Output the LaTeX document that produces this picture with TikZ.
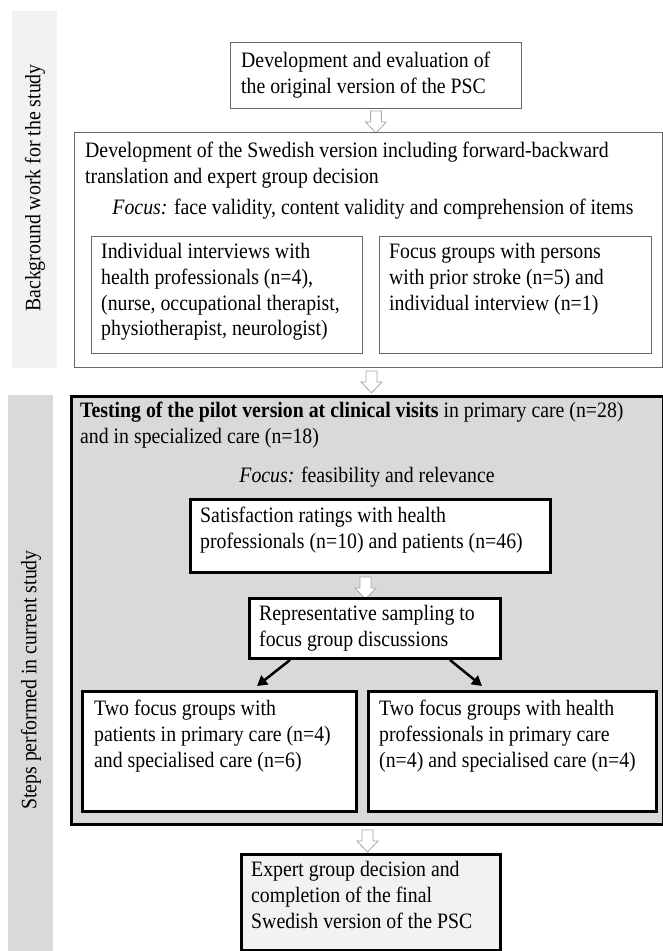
\documentclass[tikz,border=0pt]{standalone}
\usepackage{fontspec}
\setmainfont{Liberation Serif}[FakeStretch=0.9]
\usetikzlibrary{arrows.meta,calc}
\definecolor{lgray}{HTML}{F2F2F2}
\definecolor{mgray}{HTML}{D9D9D9}
\definecolor{agray}{HTML}{A6A6A6}
\begin{document}
\begin{tikzpicture}[x=1pt,y=-1pt,
  txt/.style={inner sep=0pt, anchor=north west, align=left, font=\fontsize{22}{25.8}\selectfont},
  ctxt/.style={inner sep=0pt, anchor=north, align=center, font=\fontsize{22}{25.8}\selectfont},
  sidetxt/.style={inner sep=0pt, rotate=90, font=\fontsize{22}{24}\selectfont},
  side/.style={anchor=north west, inner sep=0pt, draw=none},
  thinbox/.style={draw=black!60, line width=0.9pt, anchor=north west, inner sep=0pt},
  thickbox/.style={draw=black, line width=3pt, fill=white, anchor=north west, inner sep=0pt},
  hollow/.pic={\draw[draw=agray, fill=white, line width=0.8pt, line join=miter]
     (-5.5,0) -- (5.5,0) -- (5.5,11) -- (10.5,11) -- (0,22) -- (-10.5,11) -- (-5.5,11) -- cycle;},
  blk/.style={-{Triangle[length=10pt,width=11pt]}, line width=2.5pt}
]
\useasboundingbox (0,0) rectangle (663,951);
\fill[white] (0,0) rectangle (663,951);

% side bars
\node[side, fill=lgray, minimum width=45, minimum height=357] (s1) at (12,11) {};
\node[sidetxt] (s1t) at (35,188) {Background work for the study};
\node[side, fill=mgray, minimum width=45, minimum height=556] (s2) at (8,395) {};
\node[sidetxt] (s2t) at (31,680) {Steps performed in current study};

% box 1
\node[thinbox, minimum width=291, minimum height=66] (b1) at (230,42) {};
\node[txt] (b1t) at (241,52) {Development and evaluation of\\the original version of the PSC};

\pic at ($(b1.south)+(0,2)$) {hollow};

% box 2
\node[thinbox, minimum width=588, minimum height=235] (b2) at (74,132) {};
\node[txt] (b2t) at (85,142) {Development of the Swedish version including forward-backward\\translation and expert group decision};
\node[ctxt] (b2f) at (373,199) {\textit{Focus:} face validity, content validity and comprehension of items};
\node[thinbox, minimum width=271, minimum height=117] (il) at (91,236) {};
\node[txt] (ilt) at (101,243) {Individual interviews with\\health professionals (n=4),\\(nurse, occupational therapist,\\physiotherapist, neurologist)};
\node[thinbox, minimum width=272, minimum height=117] (ir) at (379,236) {};
\node[txt] (irt) at (389,243) {Focus groups with persons\\with prior stroke (n=5) and\\individual interview (n=1)};

\pic at ($(b2.south)+(3,3)$) {hollow};

% gray box
\node[thickbox, fill=mgray, minimum width=592, minimum height=428] (g) at (70,395) {};
\node[txt] (gt) at (80,402) {\textbf{Testing of the pilot version at clinical visits} in primary care (n=28)\\and in specialized care (n=18)};
\node[ctxt] (gf) at (367,467) {\textit{Focus:} feasibility and relevance};

\node[thickbox, minimum width=360, minimum height=73] (sat) at (189,498) {};
\node[txt] (satt) at (200,507) {Satisfaction ratings with health\\professionals (n=10) and patients (n=46)};

\pic at ($(sat.south)+(-5,3)$) {hollow};

\node[thickbox, minimum width=251, minimum height=60] (repr) at (248,597) {};
\node[txt] (reprt) at (259,605) {Representative sampling to\\focus group discussions};

\node[thickbox, minimum width=274, minimum height=120] (fl) at (81,690) {};
\node[txt] (flt) at (94,700) {Two focus groups with\\patients in primary care (n=4)\\and specialised care (n=6)};
\node[thickbox, minimum width=288, minimum height=120] (fr) at (367,690) {};
\node[txt] (frt) at (379,700) {Two focus groups with health\\professionals in primary care\\(n=4) and specialised care (n=4)};

\draw[blk] ($(repr.south west)+(42,0)$) -- ($(fl.north west)+(176,-4)$);
\draw[blk] ($(repr.south west)+(202,0)$) -- ($(fr.north west)+(115,-4)$);

\pic at ($(g.south)+(0,4)$) {hollow};

% final box
\node[thickbox, fill=lgray, minimum width=259, minimum height=96] (fin) at (240,853) {};
\node[txt] (fint) at (251,861) {Expert group decision and\\completion of the final\\Swedish version of the PSC};
\end{tikzpicture}
\end{document}
